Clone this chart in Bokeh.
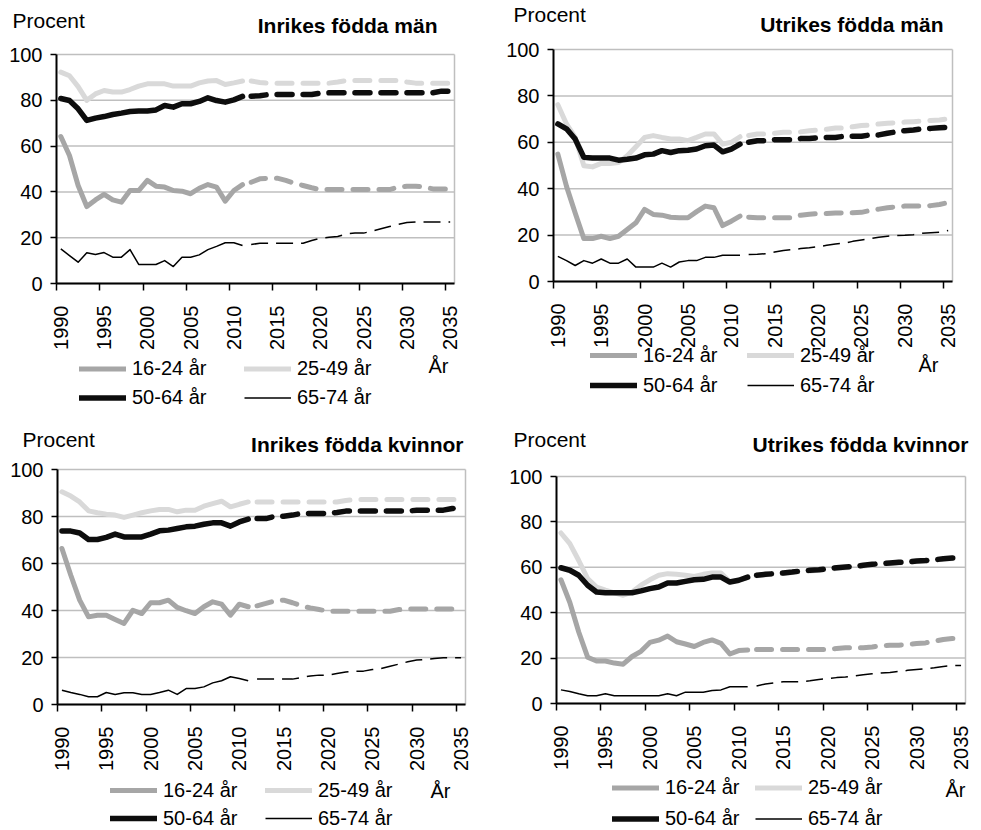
import numpy as np
from bokeh.plotting import figure
from bokeh.models import Range1d, FixedTicker, Label, Legend, LegendItem, LinearAxis
from bokeh.layouts import row, column
from bokeh.embed import file_html
from bokeh.resources import INLINE
from bokeh.core.properties import value

# ---------------- data ----------------
years_hist = list(range(1990, 2012))
years_proj = list(range(2012, 2036))
tick_years = list(range(1990, 2036, 5))
y_ticks = [0, 20, 40, 60, 80, 100]
age_groups = ["16-24 år", "25-49 år", "50-64 år", "65-74 år"]
panel_titles = ["Inrikes födda män", "Utrikes födda män",
                "Inrikes födda kvinnor", "Utrikes födda kvinnor"]
y_unit = "Procent"
x_unit = "År"

# Inrikes födda män
inr_man_16 = [64.2, 55.9, 42.8, 33.6, 36.5, 38.9, 36.5, 35.5, 40.6, 40.6, 45.0, 42.5, 42.1, 40.6, 40.3, 39.2, 41.6, 43.2, 42.1, 36.0, 40.6, 43.2]
inr_man_16_p = [44.2, 45.7, 46.0, 46.0, 45.0, 43.8, 42.8, 41.8, 41.0, 41.0, 41.0, 41.0, 41.0, 41.0, 41.0, 41.0, 41.0, 42.1, 42.5, 42.5, 42.1, 41.3, 41.3, 41.3]
inr_man_25 = [92.3, 90.7, 86.0, 80.0, 82.8, 84.3, 83.6, 83.6, 84.7, 86.2, 87.2, 87.2, 87.2, 86.2, 86.2, 86.2, 87.6, 88.4, 88.6, 86.9, 87.6, 88.4]
inr_man_25_p = [88.4, 87.8, 87.5, 87.5, 87.5, 87.5, 87.5, 87.5, 87.5, 87.5, 88.0, 88.6, 88.6, 88.6, 88.6, 88.6, 88.6, 88.6, 88.0, 87.5, 87.5, 87.5, 87.5, 87.5]
inr_man_50 = [80.8, 79.9, 76.3, 71.2, 72.2, 72.9, 73.8, 74.4, 75.1, 75.3, 75.3, 75.8, 77.7, 77.0, 78.5, 78.5, 79.5, 81.1, 79.9, 79.2, 80.2, 81.7]
inr_man_50_p = [81.8, 82.0, 82.5, 82.5, 82.5, 82.5, 82.5, 82.5, 83.1, 83.3, 83.3, 83.3, 83.3, 83.3, 83.3, 83.3, 83.3, 83.3, 83.3, 83.3, 83.3, 83.3, 84.0, 84.0]
inr_man_65 = [15.1, 12.2, 9.3, 13.4, 12.7, 13.5, 11.5, 11.5, 14.8, 8.3, 8.3, 8.3, 10.0, 7.4, 11.5, 11.5, 12.5, 14.8, 16.2, 17.8, 17.8, 16.6]
inr_man_65_p = [17.0, 17.6, 17.6, 17.6, 17.6, 17.6, 17.6, 18.8, 19.8, 20.2, 20.5, 21.7, 22.0, 22.0, 22.9, 23.9, 24.9, 25.8, 26.6, 26.9, 26.9, 26.9, 26.9, 26.9]

# Utrikes födda män
utr_man_16 = [54.9, 41.0, 29.5, 18.5, 18.5, 19.5, 18.5, 19.5, 22.4, 25.3, 31.1, 28.9, 28.6, 27.7, 27.5, 27.5, 30.1, 32.5, 31.8, 24.1, 26.0, 28.2]
utr_man_16_p = [27.7, 27.5, 27.5, 27.5, 27.5, 27.5, 28.6, 29.0, 29.3, 29.3, 29.5, 29.6, 29.6, 29.8, 30.6, 31.2, 31.8, 32.2, 32.5, 32.5, 32.5, 32.7, 33.2, 34.0]
utr_man_25 = [76.2, 67.9, 62.1, 49.9, 49.4, 50.9, 50.9, 51.3, 54.2, 58.1, 62.1, 62.9, 62.1, 61.4, 61.4, 60.7, 62.1, 63.6, 63.6, 59.2, 60.0, 62.4]
utr_man_25_p = [62.9, 63.6, 63.6, 63.9, 64.3, 64.3, 64.5, 65.0, 65.3, 65.6, 66.2, 66.2, 66.7, 67.2, 67.4, 67.9, 68.2, 68.4, 68.7, 68.9, 69.1, 69.4, 69.6, 70.1]
utr_man_50 = [67.9, 65.8, 61.4, 53.5, 53.2, 53.2, 53.2, 52.3, 52.7, 53.2, 54.6, 54.9, 56.4, 55.6, 56.4, 56.6, 57.1, 58.5, 58.8, 55.9, 57.1, 59.2]
utr_man_50_p = [60.0, 60.7, 60.7, 61.1, 61.1, 61.1, 61.6, 61.6, 62.0, 62.1, 62.1, 62.6, 62.6, 62.6, 63.2, 63.2, 63.9, 64.5, 65.0, 65.3, 65.8, 66.0, 66.3, 66.5]
utr_man_65 = [10.8, 9.0, 6.9, 9.0, 7.9, 9.7, 7.9, 7.9, 9.7, 6.2, 6.2, 6.2, 7.9, 6.2, 8.4, 9.0, 9.0, 10.4, 10.4, 11.3, 11.3, 11.3]
utr_man_65_p = [11.6, 11.7, 12.0, 12.7, 13.4, 13.7, 14.2, 14.5, 15.0, 15.6, 16.2, 16.5, 17.3, 17.9, 18.5, 19.1, 19.5, 19.8, 19.9, 20.2, 20.8, 21.0, 21.2, 22.0]

# Inrikes födda kvinnor
inr_kv_16 = [66.4, 55.0, 44.4, 37.3, 38.0, 38.0, 36.2, 34.5, 40.1, 38.7, 43.3, 43.3, 44.4, 41.3, 39.9, 38.7, 41.6, 43.7, 42.7, 38.0, 42.7, 41.6]
inr_kv_16_p = [42.0, 43.0, 44.1, 44.4, 43.3, 42.0, 41.1, 40.4, 39.7, 39.7, 39.7, 39.7, 39.7, 39.7, 39.7, 39.7, 40.4, 40.6, 40.6, 40.6, 40.6, 40.6, 40.6, 39.7]
inr_kv_25 = [90.5, 88.7, 86.2, 82.4, 81.6, 81.0, 80.6, 79.6, 80.6, 81.6, 82.4, 83.0, 83.0, 82.0, 82.7, 82.7, 84.4, 85.5, 86.5, 84.1, 85.2, 86.2]
inr_kv_25_p = [86.2, 86.2, 86.2, 86.2, 86.2, 86.2, 86.2, 86.2, 86.2, 86.2, 86.8, 87.2, 87.2, 87.2, 87.2, 87.2, 87.2, 87.2, 87.2, 87.2, 87.2, 87.2, 87.2, 87.2]
inr_kv_50 = [73.8, 73.8, 73.0, 70.2, 70.2, 71.1, 72.5, 71.3, 71.3, 71.3, 72.5, 73.9, 74.2, 74.9, 75.6, 75.9, 76.7, 77.3, 77.3, 75.9, 77.7, 78.9]
inr_kv_50_p = [79.1, 79.1, 80.1, 80.1, 80.6, 81.3, 81.3, 81.3, 81.3, 81.7, 82.3, 82.3, 82.3, 82.3, 82.3, 82.3, 82.3, 82.3, 82.7, 82.7, 82.7, 82.7, 83.4, 83.7]
inr_kv_65 = [6.1, 5.1, 4.3, 3.3, 3.3, 5.1, 4.3, 5.0, 5.0, 4.3, 4.3, 5.1, 6.1, 4.3, 6.8, 6.8, 7.5, 9.2, 10.1, 11.8, 11.1, 10.1]
inr_kv_65_p = [10.8, 10.8, 10.8, 10.8, 10.8, 11.5, 12.1, 12.5, 12.5, 13.2, 13.8, 14.2, 14.2, 14.9, 15.3, 16.3, 17.2, 18.2, 18.9, 19.1, 19.6, 19.9, 19.9, 19.9]

# Utrikes födda kvinnor
utr_kv_16 = [54.5, 44.5, 31.5, 20.4, 18.7, 18.7, 17.8, 17.3, 20.7, 23.0, 26.9, 27.9, 29.7, 27.2, 26.2, 25.1, 26.9, 28.0, 26.5, 21.8, 23.3, 23.6]
utr_kv_16_p = [23.8, 23.8, 23.8, 23.8, 23.8, 23.8, 23.8, 23.8, 23.8, 24.2, 24.6, 24.6, 24.6, 24.9, 25.4, 25.7, 25.7, 26.0, 26.4, 26.7, 27.4, 28.2, 28.6, 28.6]
utr_kv_25 = [75.1, 70.4, 63.0, 55.0, 51.3, 49.9, 48.7, 47.7, 49.1, 52.1, 54.5, 56.5, 57.2, 56.9, 56.5, 56.0, 56.9, 57.5, 57.5, 53.6, 54.3, 55.6]
utr_kv_25_p = [56.3, 56.7, 57.0, 57.3, 57.7, 58.1, 58.4, 58.7, 59.1, 59.5, 59.8, 60.1, 60.6, 61.0, 61.3, 61.6, 61.9, 62.1, 62.5, 62.8, 63.1, 63.6, 63.9, 64.0]
utr_kv_50 = [59.8, 58.7, 56.5, 52.1, 49.1, 48.8, 48.8, 48.8, 48.8, 49.6, 50.6, 51.3, 53.1, 53.1, 53.8, 54.5, 54.7, 55.7, 55.7, 53.5, 54.3, 55.7]
utr_kv_50_p = [56.5, 56.9, 57.2, 57.5, 57.9, 58.4, 58.7, 58.9, 59.4, 59.8, 60.1, 60.4, 60.9, 61.3, 61.6, 61.9, 62.2, 62.3, 62.8, 63.0, 63.3, 63.8, 64.1, 64.1]
utr_kv_65 = [6.0, 5.3, 4.3, 3.4, 3.4, 4.3, 3.4, 3.4, 3.4, 3.4, 3.4, 3.4, 4.3, 3.4, 5.0, 5.0, 5.0, 5.7, 6.0, 7.4, 7.4, 7.4]
utr_kv_65_p = [7.7, 8.6, 9.1, 9.6, 9.6, 9.6, 10.0, 10.6, 11.0, 11.4, 11.7, 12.1, 12.7, 13.1, 13.4, 13.7, 14.1, 14.6, 15.0, 15.3, 15.7, 16.3, 16.7, 16.7]

panel_series = [
    [(inr_man_16, inr_man_16_p), (inr_man_25, inr_man_25_p), (inr_man_50, inr_man_50_p), (inr_man_65, inr_man_65_p)],
    [(utr_man_16, utr_man_16_p), (utr_man_25, utr_man_25_p), (utr_man_50, utr_man_50_p), (utr_man_65, utr_man_65_p)],
    [(inr_kv_16, inr_kv_16_p), (inr_kv_25, inr_kv_25_p), (inr_kv_50, inr_kv_50_p), (inr_kv_65, inr_kv_65_p)],
    [(utr_kv_16, utr_kv_16_p), (utr_kv_25, utr_kv_25_p), (utr_kv_50, utr_kv_50_p), (utr_kv_65, utr_kv_65_p)],
]

# ---------------- styles / layout ----------------
FONT = "Liberation Sans"
GRID = "#bfbfbf"
styles = [
    dict(color="#a6a6a6", width=5.0, dash="15 11", cap="round"),
    dict(color="#d9d9d9", width=5.0, dash="15 11", cap="round"),
    dict(color="#0d0d0d", width=5.5, dash="15 11", cap="round"),
    dict(color="#000000", width=1.5, dash="17 8", cap="butt"),
]
X0, X1 = 1989.5, 2035.5   # plot-area edges (category boundaries)
Y0, Y1 = 0, 100
TEXT_DY = 8               # baseline correction for Label text (px)

# page-pixel geometry of each panel (figure box, plot-area box, text anchors)
layouts = [
    dict(origin=(0, 0), w=490, h=418, frame=(56, 454, 54, 283),
         procent=(12, 28), title=(437, 33), ar=(428, 373), cols=(79, 244), rows=(368, 397)),
    dict(origin=(490, 0), w=491, h=418, frame=(553, 952, 49, 281),
         procent=(513, 22), title=(943, 32), ar=(918, 372), cols=(590, 747), rows=(355, 385)),
    dict(origin=(0, 418), w=490, h=412, frame=(57, 465, 469, 704),
         procent=(22, 447), title=(463, 452), ar=(430, 798), cols=(110, 265), rows=(790, 818)),
    dict(origin=(490, 418), w=491, h=412, frame=(556, 965, 476, 703),
         procent=(513, 447), title=(968, 452), ar=(945, 797), cols=(612, 755), rows=(787, 818)),
]


def make_panel(title, series, L):
    ox, oy = L["origin"]
    fl, fr, ft, fb = L["frame"]
    W, H = L["w"], L["h"]
    kx = (X1 - X0) / (fr - fl)
    ky = (Y1 - Y0) / (fb - ft)
    xr = Range1d(X0 - (fl - ox) * kx, X1 + (ox + W - fr) * kx)
    yr = Range1d(Y0 - (oy + H - fb) * ky, Y1 + (ft - oy) * ky)

    p = figure(width=W, height=H, x_range=xr, y_range=yr,
               output_backend="svg", toolbar_location=None, frame_align=False,
               x_axis_location=None, y_axis_location=None,
               min_border_left=0, min_border_right=0, min_border_top=0, min_border_bottom=0)
    p.title.visible = False
    p.background_fill_color = "white"
    p.border_fill_color = "white"
    p.outline_line_color = None
    p.xgrid.visible = False
    p.ygrid.visible = False

    # horizontal grid lines at the y ticks and right border of the plot area
    n = len(y_ticks)
    p.segment(x0=[X0] * n, y0=y_ticks, x1=[X1] * n, y1=y_ticks,
              line_color=GRID, line_width=1.5)
    p.segment(x0=[X1], y0=[Y0], x1=[X1], y1=[Y1], line_color=GRID, line_width=1.5)

    # data lines: solid = outcome, dashed = projection
    renderers = []
    for (hist, proj), st in zip(series, styles):
        r = p.line(years_hist, hist, line_color=st["color"], line_width=st["width"],
                   line_join="round", line_cap=st["cap"])
        p.line(years_proj, proj, line_color=st["color"], line_width=st["width"],
               line_join="round", line_cap=st["cap"], line_dash=st["dash"])
        renderers.append(r)

    # axes drawn at the plot-area edges
    xa = LinearAxis(fixed_location=Y0, bounds=(X0, X1),
                    ticker=FixedTicker(ticks=tick_years, minor_ticks=[t - 0.5 for t in tick_years]))
    xa.major_label_orientation = np.pi / 2
    xa.major_tick_out = 0
    xa.major_tick_in = 0
    xa.minor_tick_out = 7
    xa.minor_tick_in = 0
    xa.minor_tick_line_color = "black"
    xa.minor_tick_line_width = 1.5
    xa.axis_line_color = "black"
    xa.axis_line_width = 2
    xa.major_label_standoff = 15
    xa.major_label_text_font = FONT
    xa.major_label_text_font_size = "20px"
    xa.major_label_text_color = "black"
    p.add_layout(xa, "below")

    ya = LinearAxis(fixed_location=X0, bounds=(Y0, Y1), ticker=FixedTicker(ticks=y_ticks))
    ya.major_tick_out = 6
    ya.major_tick_in = 0
    ya.minor_tick_out = 0
    ya.minor_tick_in = 0
    ya.major_tick_line_color = "black"
    ya.major_tick_line_width = 1.5
    ya.axis_line_color = "black"
    ya.axis_line_width = 2
    ya.major_label_standoff = 8
    ya.major_label_text_font = FONT
    ya.major_label_text_font_size = "20px"
    ya.major_label_text_color = "black"
    p.add_layout(ya, "left")

    def to_data(px, py):
        return X0 + (px - fl) * kx, Y0 + (fb - (py - TEXT_DY)) * ky

    def text(t, pos, align="left", bold=False, size="20px"):
        xd, yd = to_data(*pos)
        p.add_layout(Label(x=xd, y=yd, text=t, text_align=align, text_baseline="alphabetic",
                           text_font=FONT, text_font_size=size,
                           text_font_style="bold" if bold else "normal", text_color="black"))

    text(y_unit, L["procent"], size="21px")
    text(title, L["title"], align="right", bold=True, size="21px")
    text(x_unit, L["ar"])

    r1, r2 = L["rows"]
    gap = r2 - r1
    leg_bottom = r1 + 1.5 * gap
    vy = (oy + H) - leg_bottom
    for ci, idxs in enumerate([(0, 2), (1, 3)]):
        items = [LegendItem(label=value(age_groups[i]), renderers=[renderers[i]]) for i in idxs]
        leg = Legend(items=items, location=(L["cols"][ci] - ox, vy),
                     orientation="vertical", padding=0, margin=0, spacing=0,
                     glyph_width=47, glyph_height=gap, label_height=gap,
                     label_standoff=6, label_text_font=FONT, label_text_font_size="20px",
                     label_text_color="black", border_line_color=None,
                     background_fill_alpha=0)
        p.add_layout(leg, "center")
    return p


panels = [make_panel(t, s, L) for t, s, L in zip(panel_titles, panel_series, layouts)]
page = column(row(panels[0], panels[1], spacing=0), row(panels[2], panels[3], spacing=0), spacing=0)

open("out.html", "w").write(file_html(page, INLINE))
